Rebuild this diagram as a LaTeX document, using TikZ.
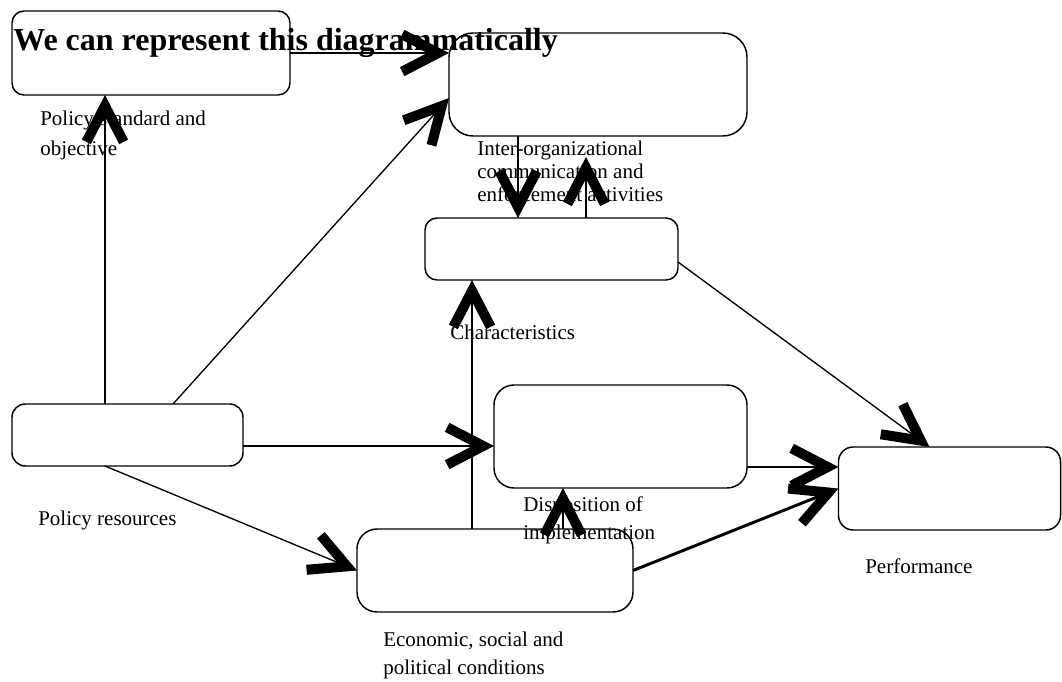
\documentclass[tikz,border=0pt]{standalone}
\usepackage{fontspec}
\setmainfont{Liberation Serif}
\usetikzlibrary{arrows.meta,calc}

\begin{document}
\begin{tikzpicture}[x=0.75pt, y=-0.75pt,
    box/.style={draw, line width=1.1pt, inner sep=0pt, outer sep=0pt},
    lbl/.style={align=left, inner sep=0pt, anchor=base west},
    heavy/.style={line width=2.2pt},
    light/.style={line width=1pt},
    chev/.style={-{Straight Barb[length=27pt, width=28pt, line width=7.5pt]}}]
  \useasboundingbox (0,0) rectangle (1062,681);

  % Title across the top
  \node[font=\fontsize{24}{28}\selectfont\bfseries, anchor=base west, inner sep=0pt]
    (title) at (13,51) {We can represent this diagrammatically};

  % Boxes
  \node[box, rounded corners=9pt, minimum width=208.5pt, minimum height=63pt] (std) at (151,53) {};
  \node[box, rounded corners=18pt, minimum width=223.5pt, minimum height=77.25pt] (comm) at (598,84.5) {};
  \node[box, rounded corners=9pt, minimum width=189.75pt, minimum height=46.5pt] (char) at (551.5,249) {};
  \node[box, rounded corners=10pt, minimum width=173.25pt, minimum height=46.5pt] (res) at (127.5,435) {};
  \node[box, rounded corners=15pt, minimum width=189.75pt, minimum height=77.25pt] (disp) at (620.5,436.5) {};
  \node[box, rounded corners=11pt, minimum width=166.5pt, minimum height=62.25pt] (perf) at (949.5,488.5) {};
  \node[box, rounded corners=15pt, minimum width=207pt, minimum height=62.25pt] (econ) at (495,570.5) {};

  % Labels under the boxes (base = last line)
  \node[lbl, font=\fontsize{15.75}{22.5}\selectfont] (stdlbl) at (40,156) {Policy standard and\\objective};
  \node[lbl, font=\fontsize{15.75}{17}\selectfont] (commlbl) at (477,201)
    {Inter-organizational\\communication and\\enforcement activities};
  \node[lbl, font=\fontsize{15.75}{21}\selectfont] (charlbl) at (450,339) {Characteristics};
  \node[lbl, font=\fontsize{15.75}{21}\selectfont] (reslbl) at (38,525) {Policy resources};
  \node[lbl, font=\fontsize{15.75}{21}\selectfont] (displbl) at (523,539) {Disposition of\\implementation};
  \node[lbl, font=\fontsize{15.75}{21}\selectfont] (perflbl) at (865,573) {Performance};
  \node[lbl, font=\fontsize{15.75}{21}\selectfont] (econlbl) at (383,674) {Economic, social and\\political conditions};

  % Connector ends on the box edges
  \coordinate (r1) at ($(res.north west)+(93,0)$);
  \coordinate (r2) at ($(res.north west)+(161,0)$);
  \coordinate (r3) at ($(res.south west)+(93,0)$);
  \coordinate (r4) at ($(res.east)+(0,11)$);
  \coordinate (c1) at ($(comm.south west)+(69,0)$);
  \coordinate (h1) at ($(char.north west)+(161,0)$);
  \coordinate (h2) at ($(char.east)+(0,13)$);
  \coordinate (e1) at ($(econ.north west)+(115,0)$);
  \coordinate (e2) at ($(econ.north west)+(206,0)$);
  \coordinate (d1) at ($(disp.east)+(0,30.5)$);

  % Arrows
  \draw[heavy, chev] (std.east) -- (std.east -| comm.west);
  \draw[light, chev] (r2) -- ($(comm.west)+(0,13.5)$);
  \draw[heavy, chev] (r1) -- (r1 |- std.south);
  \draw[heavy, chev] (c1) -- (c1 |- char.north);
  \draw[heavy, chev, shorten >=15.75pt] (h1) -- (h1 |- comm.south);
  \draw[light, chev] (h2) -- ($(perf.north west)+(91,0)$);
  \draw[heavy, chev] (r4) -- (r4 -| disp.west);
  \draw[light, chev] (r3) -- (econ.west);
  \draw[heavy, chev] (e1) -- (e1 |- char.south);
  \draw[heavy, chev] (e2) -- (e2 |- disp.south);
  \draw[heavy, chev] (d1) -- (d1 -| perf.west);
  \draw[heavy, chev] (econ.east) -- (perf.west);
\end{tikzpicture}
\end{document}
